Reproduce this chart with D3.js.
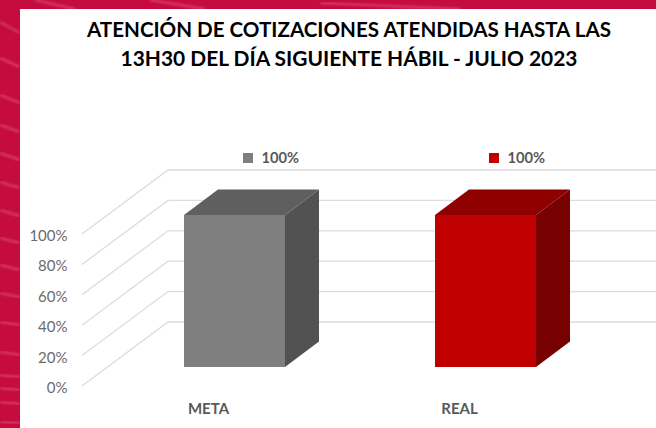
<!DOCTYPE html>
<html>
<head>
<meta charset="utf-8">
<script src="https://cdn.jsdelivr.net/npm/d3@7"></script>
<style>
  html, body { margin: 0; padding: 0; background: #c8093f; }
  svg { display: block; }
  text { font-family: Lato, sans-serif; }
</style>
</head>
<body>
<script>
const categories = ['META', 'REAL'];
const values = [1, 1];
const tickValues = [0, 0.2, 0.4, 0.6, 0.8, 1];
const frontColors = ['#7f7f7f', '#c00000'];
const topColors = ['#5f5f5f', '#8f0000'];
const sideColors = ['#525252', '#770000'];
const titleLines = ['ATENCIÓN DE COTIZACIONES ATENDIDAS HASTA LAS', '13H30 DEL DÍA SIGUIENTE HÁBIL - JULIO 2023'];
const titleWidths = [524, 457];
// pale streaks of the slide background: [x1, y1, x2, y2]
const streaks = [
  [0, 22, 20, 33], [0, 58, 20, 67], [0, 95, 20, 103], [0, 125, 20, 132],
  [0, 153, 20, 160], [0, 182, 20, 188], [0, 210, 20, 216], [0, 238, 20, 243],
  [0, 265, 20, 270], [0, 293, 20, 297], [0, 322, 20, 325], [0, 352, 20, 355],
  [0, 375, 20, 377], [0, 388, 20, 390], [0, 402, 20, 404], [0, 422, 20, 423],
  [35, 0, 75, 9], [150, 0, 205, 9], [320, 3, 460, 9]
];

const width = 656;
const height = 428;

const svg = d3.select('body').append('svg')
    .attr('width', width)
    .attr('height', height);

svg.append('defs').append('filter').attr('id', 'soft')
    .append('feGaussianBlur').attr('stdDeviation', 0.8);

// red slide background
svg.append('rect').attr('width', width).attr('height', height).attr('fill', '#c60b3f');
svg.selectAll('.streak')
    .data(streaks)
    .join('line')
    .attr('class', 'streak')
    .attr('x1', d => d[0])
    .attr('y1', d => d[1])
    .attr('x2', d => d[2])
    .attr('y2', d => d[3])
    .attr('stroke', '#e0607f')
    .attr('stroke-width', 2.5)
    .attr('opacity', 0.55)
    .attr('filter', 'url(#soft)');
svg.append('rect').attr('x', 20).attr('y', 9).attr('width', width - 20).attr('height', height - 9).attr('fill', '#fff');

// title
svg.selectAll('.title')
    .data(titleLines)
    .join('text')
    .attr('class', 'title')
    .attr('text-anchor', 'middle')
    .attr('font-size', 21)
    .attr('font-weight', 700)
    .attr('fill', '#000')
    .attr('x', 349)
    .attr('y', (d, i) => 37 + i * 29)
    .attr('textLength', (d, i) => titleWidths[i])
    .attr('lengthAdjust', 'spacingAndGlyphs')
    .text(d => d);

// floor depth of the 3d box: grid goes full depth, bars sit in the middle
const depth = [86, -64];
const barDepth = [34, -25.5];
const barInset = [25.5, -19];

const y = d3.scaleLinear().domain([0, 1]).range([386, 234]);
const x = d3.scaleBand().domain(categories).range([83.2, 585.8]).paddingInner(0.5976).paddingOuter(0.3);
const legendX = d3.scalePoint().domain(categories).range([243, 489]);

const line = d3.line();

// gridlines: slanted side wall then back wall
svg.selectAll('.grid')
    .data(tickValues)
    .join('path')
    .attr('class', 'grid')
    .attr('fill', 'none')
    .attr('stroke', '#dcdcdc')
    .attr('stroke-width', 1.3)
    .attr('d', d => line([[82, y(d)], [82 + depth[0], y(d) + depth[1]], [width, y(d) + depth[1]]]));

// tick labels
svg.selectAll('.tick')
    .data(tickValues)
    .join('text')
    .attr('class', 'tick')
    .attr('x', 67.5)
    .attr('y', d => y(d) + 7)
    .attr('text-anchor', 'end')
    .attr('font-size', 15)
    .attr('fill', '#6b6b6b')
    .text(d3.format('.0%'));

// bars
const bars = svg.selectAll('.bar')
    .data(categories)
    .join('g')
    .attr('class', 'bar');

bars.append('path')
    .attr('fill', (d, i) => sideColors[i])
    .attr('d', (d, i) => {
      const r = x(d) + x.bandwidth() + barInset[0];
      const b = y(0) + barInset[1];
      const t = y(values[i]) + barInset[1];
      return line([[r, t], [r + barDepth[0], t + barDepth[1]], [r + barDepth[0], b + barDepth[1]], [r, b]]) + 'Z';
    });

bars.append('path')
    .attr('fill', (d, i) => topColors[i])
    .attr('d', (d, i) => {
      const l = x(d) + barInset[0];
      const r = l + x.bandwidth();
      const t = y(values[i]) + barInset[1];
      return line([[l, t], [l + barDepth[0], t + barDepth[1]], [r + barDepth[0], t + barDepth[1]], [r, t]]) + 'Z';
    });

bars.append('rect')
    .attr('x', d => x(d) + barInset[0])
    .attr('y', (d, i) => y(values[i]) + barInset[1])
    .attr('width', x.bandwidth())
    .attr('height', (d, i) => y(0) - y(values[i]))
    .attr('fill', (d, i) => frontColors[i]);

// value legend above each bar
bars.append('rect')
    .attr('x', d => legendX(d))
    .attr('y', 153)
    .attr('width', 10)
    .attr('height', 10)
    .attr('fill', (d, i) => frontColors[i]);

bars.append('text')
    .attr('x', d => legendX(d) + 18.5)
    .attr('y', 163)
    .attr('font-size', 14.7)
    .attr('font-weight', 700)
    .attr('fill', '#595959')
    .text((d, i) => d3.format('.0%')(values[i]));

// category labels
bars.append('text')
    .attr('x', d => x(d) + barInset[0] + x.bandwidth() / 2 - 26)
    .attr('y', 414)
    .attr('text-anchor', 'middle')
    .attr('font-size', 15)
    .attr('font-weight', 700)
    .attr('fill', '#595959')
    .text(d => d);
</script>
</body>
</html>
